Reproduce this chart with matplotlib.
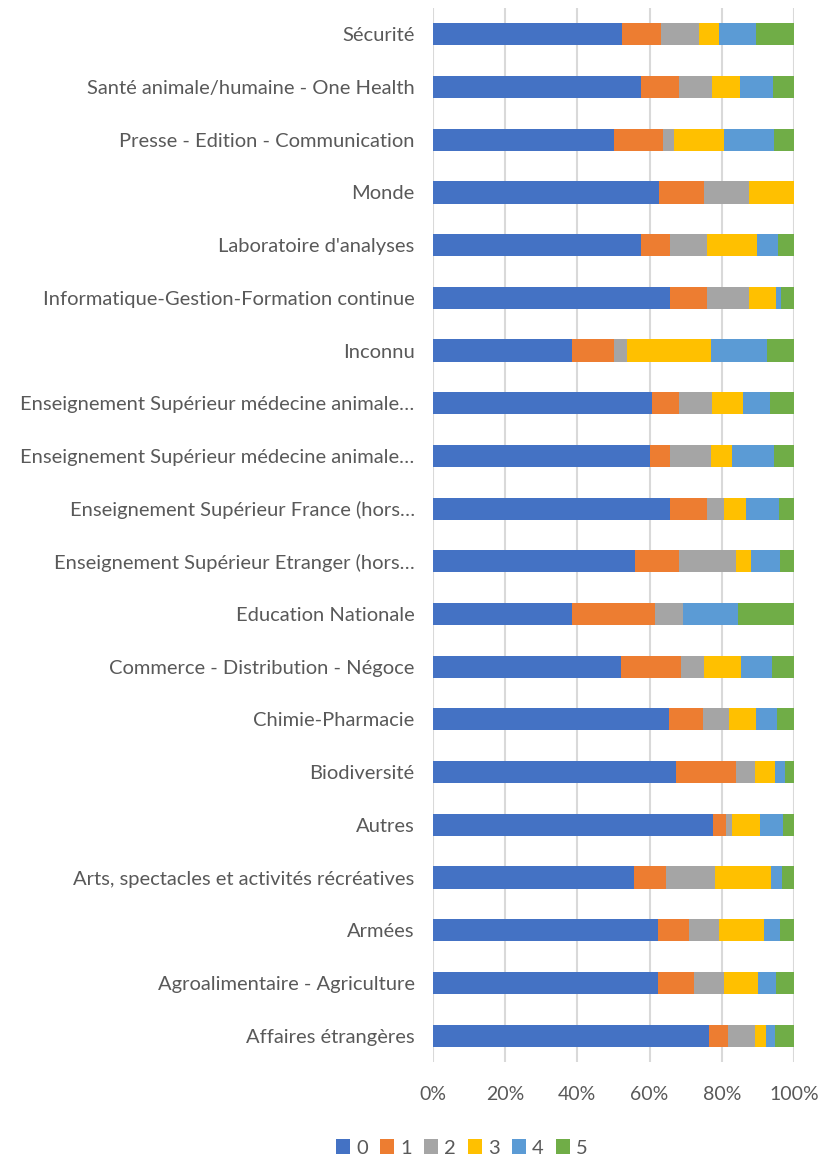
import numpy as np
import matplotlib
matplotlib.use("Agg")
import matplotlib.pyplot as plt
from matplotlib.ticker import PercentFormatter

# categories listed bottom -> top (as drawn)
categories = [
    "Affaires étrangères",
    "Agroalimentaire - Agriculture",
    "Armées",
    "Arts, spectacles et activités récréatives",
    "Autres",
    "Biodiversité",
    "Chimie-Pharmacie",
    "Commerce - Distribution - Négoce",
    "Education Nationale",
    "Enseignement Supérieur Etranger (hors…",
    "Enseignement Supérieur France (hors…",
    "Enseignement Supérieur médecine animale…",
    "Enseignement Supérieur médecine animale…",
    "Inconnu",
    "Informatique-Gestion-Formation continue",
    "Laboratoire d'analyses",
    "Monde",
    "Presse - Edition - Communication",
    "Santé animale/humaine - One Health",
    "Sécurité",
]

# share of each score (percent), same order as categories
s0 = [76.4, 62.4, 62.4, 55.7, 77.7, 67.4, 65.4, 52.1, 38.5, 56.1,
      65.7, 60.1, 60.8, 38.5, 65.7, 57.7, 62.5, 50.1, 57.7, 52.4]
s1 = [5.3, 9.9, 8.4, 8.8, 3.5, 16.4, 9.4, 16.6, 23.1, 12.1,
      10.3, 5.7, 7.4, 11.7, 10.1, 8.1, 12.5, 13.6, 10.5, 10.7]
s2 = [7.6, 8.3, 8.3, 13.5, 1.5, 5.5, 7.2, 6.4, 7.7, 15.7,
      4.6, 11.2, 9.2, 3.6, 11.8, 10.2, 12.5, 3.1, 9.2, 10.5]
s3 = [2.8, 9.3, 12.6, 15.5, 7.8, 5.5, 7.4, 10.3, 0.0, 4.2,
      6.1, 5.7, 8.4, 23.3, 7.4, 13.8, 12.5, 13.9, 7.7, 5.5]
s4 = [2.6, 5.2, 4.4, 3.2, 6.5, 2.8, 6.0, 8.4, 15.4, 8.0,
      9.1, 11.8, 7.6, 15.5, 1.4, 5.7, 0.0, 13.8, 9.0, 10.4]
s5 = [5.3, 4.9, 3.9, 3.3, 3.0, 2.4, 4.6, 6.2, 15.4, 3.9,
      4.2, 5.5, 6.6, 7.4, 3.6, 4.5, 0.0, 5.5, 5.9, 10.5]

series_names = ["0", "1", "2", "3", "4", "5"]
colors = ["#4472C4", "#ED7D31", "#A5A5A5", "#FFC000", "#5B9BD5", "#70AD47"]

plt.rcParams['font.family'] = ['Lato', 'DejaVu Sans']

data = np.array([s0, s1, s2, s3, s4, s5], dtype=float)
data = data / data.sum(axis=0) * 100  # 100% stacked

fig = plt.figure(figsize=(8.22, 11.61), dpi=100)
ax = fig.add_axes([0.5264, 0.0853, 0.4396, 0.9078])

y = np.arange(len(categories))
left = np.zeros(len(categories))
for vals, name, col in zip(data, series_names, colors):
    ax.barh(y, vals, left=left, height=0.42, color=col, label=name, zorder=3)
    left += vals

ax.set_xlim(0, 100)
ax.set_ylim(-0.5, len(categories) - 0.5)
ax.set_xticks(np.arange(0, 101, 20))
ax.xaxis.set_major_formatter(PercentFormatter(decimals=0))
ax.set_yticks(y)
ax.set_yticklabels(categories, fontsize=14.5)
ax.grid(axis='x', color='#d9d9d9', linewidth=1.5, zorder=0)
for sp in ax.spines.values():
    sp.set_visible(False)
ax.tick_params(axis='both', length=0, colors='#595959')
ax.tick_params(axis='x', pad=17, labelsize=14)
ax.tick_params(axis='y', pad=13)

fig.legend(loc='center', bbox_to_anchor=(0.562, 1 - 1148 / 1161), ncol=6,
           frameon=False, fontsize=14.5, handlelength=0.7, handleheight=0.7,
           handletextpad=0.3, columnspacing=0.6, labelcolor='#595959')

fig.savefig("out.png", dpi=100)
